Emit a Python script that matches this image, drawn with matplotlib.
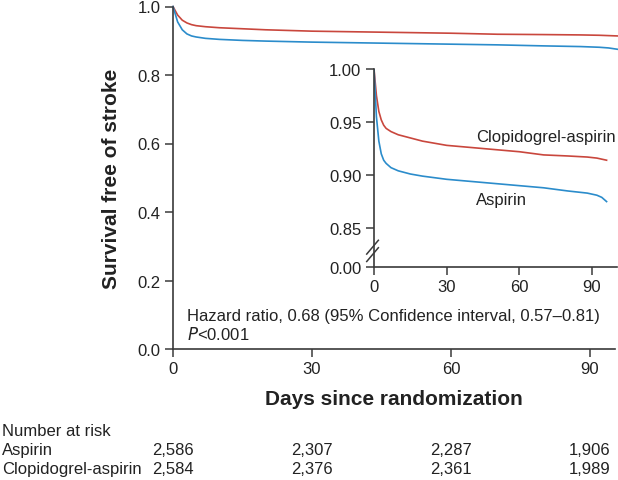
import matplotlib
matplotlib.use("Agg")
import matplotlib.pyplot as plt
import matplotlib.transforms as mtransforms

plt.rcParams['font.family'] = ['Liberation Sans', 'DejaVu Sans']

# survival curves
days = [0, 1, 2, 3, 4, 5, 7, 10, 15, 20, 30, 40, 50, 60, 70, 80, 88, 92, 94, 96]
surv_dual = [1.0, 0.975, 0.960, 0.952, 0.947, 0.944, 0.941, 0.938, 0.935, 0.932,
             0.928, 0.926, 0.924, 0.922, 0.919, 0.918, 0.917, 0.916, 0.915, 0.914]
surv_asp = [1.0, 0.955, 0.932, 0.920, 0.914, 0.911, 0.907, 0.904, 0.901, 0.899,
            0.896, 0.894, 0.892, 0.890, 0.888, 0.885, 0.883, 0.881, 0.879, 0.875]

risk_days = [0, 30, 60, 90]
risk_asp = ["2,586", "2,307", "2,287", "1,906"]
risk_dual = ["2,584", "2,376", "2,361", "1,989"]

red = "#c9473d"
blue = "#2b8ccb"
axc = "#3a3a3a"
txt = "#222222"
fs = 12

fig = plt.figure(figsize=(6.18, 4.81), dpi=100)

# main axes
ax = fig.add_axes([173/618, 1-350/481, (615-173)/618, (350-7.5)/481])
ax.plot(days, surv_dual, color=red, lw=1.2, clip_on=False)
ax.plot(days, surv_asp, color=blue, lw=1.2, clip_on=False)
ax.set_xlim(0, 95.4)
ax.set_ylim(0, 1.0)
ax.set_xticks(risk_days)
ax.set_yticks([0, 0.2, 0.4, 0.6, 0.8, 1.0])
ax.set_yticklabels(["0.0", "0.2", "0.4", "0.6", "0.8", "1.0"])
for s in ["top", "right"]:
    ax.spines[s].set_visible(False)
for s in ["left", "bottom"]:
    ax.spines[s].set_color(axc)
    ax.spines[s].set_linewidth(1.2)
ax.tick_params(colors=axc, labelcolor=txt, labelsize=fs, length=6, width=1.1, pad=3)
ax.set_xlabel("Days since randomization", fontsize=15, fontweight="bold", color=txt, labelpad=9)
ax.set_ylabel("Survival free of stroke", fontsize=15, fontweight="bold", color=txt, labelpad=12)

ax.text(187/618, 1-316/481, "Hazard ratio, 0.68 (95% Confidence interval, 0.57\u20130.81)",
        transform=fig.transFigure, fontsize=fs, color=txt, va="center", ha="left")
ax.text(187/618, 1-334/481, r"$\it{P}$<0.001", transform=fig.transFigure,
        fontsize=fs, color=txt, va="center", ha="left")

# number at risk table
trans = mtransforms.blended_transform_factory(ax.transData, fig.transFigure)
fig.text(2/618, 1-432/481, "Number at risk", fontsize=fs, color=txt, va="center")
fig.text(2/618, 1-451/481, "Aspirin", fontsize=fs, color=txt, va="center")
fig.text(2/618, 1-470/481, "Clopidogrel-aspirin", fontsize=fs, color=txt, va="center")
for d, a, c in zip(risk_days, risk_asp, risk_dual):
    fig.text(d, 1-451/481, a, transform=trans, fontsize=fs, color=txt, va="center", ha="center")
    fig.text(d, 1-470/481, c, transform=trans, fontsize=fs, color=txt, va="center", ha="center")

# inset
ybot = 0.8136
ins = fig.add_axes([374/618, 1-267.7/481, (617-374)/618, (267.7-70)/481])
ins.plot(days, surv_dual, color=red, lw=1.2)
ins.plot(days, surv_asp, color=blue, lw=1.2)
ins.set_xlim(0, 100.3)
ins.set_ylim(ybot, 1.0)
ins.set_xticks(risk_days)
ins.set_yticks([ybot, 0.85, 0.90, 0.95, 1.00])
ins.set_yticklabels(["0.00", "0.85", "0.90", "0.95", "1.00"])
for s in ["top", "right"]:
    ins.spines[s].set_visible(False)
for s in ["left", "bottom"]:
    ins.spines[s].set_color(axc)
    ins.spines[s].set_linewidth(1.2)
ins.tick_params(colors=axc, labelcolor=txt, labelsize=fs, length=6, width=1.1, pad=3)
ins.patch.set_alpha(0)

# axis break marks
for yb in [0.825, 0.832]:
    ins.plot([-3.0, 1.8], [yb - 0.0065, yb + 0.0065], color=axc, lw=1.1, clip_on=False)

ins.text(42.1, 0.936, "Clopidogrel-aspirin", fontsize=fs, color=txt, va="center", ha="left")
ins.text(42.1, 0.8766, "Aspirin", fontsize=fs, color=txt, va="center", ha="left")

fig.savefig("out.png", dpi=100)
